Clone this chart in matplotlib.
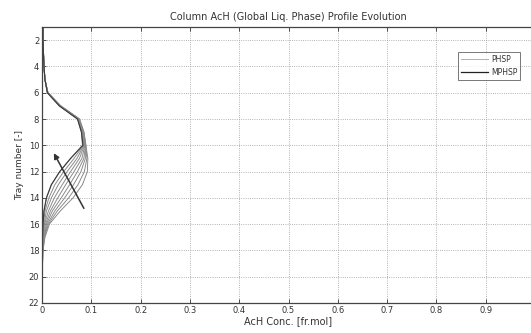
import matplotlib
matplotlib.use("Agg")
import matplotlib.pyplot as plt

# tray numbers (top of column = 1)
trays = list(range(1, 23))

# PHSP profiles, one row per tray, one column per time snapshot (first -> last)
phsp_conc = [
    [0.002, 0.002, 0.002, 0.002, 0.002, 0.002, 0.002, 0.002, 0.002],
    [0.002, 0.002, 0.002, 0.002, 0.002, 0.002, 0.002, 0.002, 0.002],
    [0.003, 0.003, 0.003, 0.003, 0.003, 0.003, 0.003, 0.003, 0.003],
    [0.004, 0.004, 0.004, 0.004, 0.004, 0.004, 0.004, 0.004, 0.004],
    [0.006, 0.006, 0.006, 0.006, 0.006, 0.006, 0.006, 0.006, 0.006],
    [0.012, 0.012, 0.012, 0.012, 0.011, 0.011, 0.011, 0.011, 0.011],
    [0.038, 0.038, 0.037, 0.037, 0.037, 0.036, 0.036, 0.036, 0.035],
    [0.076, 0.076, 0.075, 0.075, 0.074, 0.074, 0.073, 0.073, 0.072],
    [0.085, 0.085, 0.084, 0.084, 0.083, 0.083, 0.082, 0.081, 0.080],
    [0.089, 0.089, 0.088, 0.088, 0.087, 0.086, 0.085, 0.084, 0.082],
    [0.093, 0.091, 0.088, 0.085, 0.081, 0.076, 0.071, 0.065, 0.058],
    [0.092, 0.086, 0.079, 0.072, 0.065, 0.058, 0.051, 0.044, 0.036],
    [0.082, 0.073, 0.064, 0.056, 0.048, 0.041, 0.033, 0.026, 0.019],
    [0.063, 0.054, 0.046, 0.039, 0.032, 0.025, 0.019, 0.014, 0.009],
    [0.037, 0.031, 0.026, 0.021, 0.017, 0.013, 0.009, 0.006, 0.004],
    [0.015, 0.013, 0.011, 0.009, 0.007, 0.005, 0.004, 0.003, 0.002],
    [0.006, 0.005, 0.004, 0.004, 0.003, 0.002, 0.002, 0.001, 0.001],
    [0.002, 0.002, 0.002, 0.001, 0.001, 0.001, 0.001, 0.001, 0.001],
    [0.001, 0.001, 0.001, 0.001, 0.000, 0.000, 0.000, 0.000, 0.000],
    [0.000, 0.000, 0.000, 0.000, 0.000, 0.000, 0.000, 0.000, 0.000],
    [0.000, 0.000, 0.000, 0.000, 0.000, 0.000, 0.000, 0.000, 0.000],
    [0.000, 0.000, 0.000, 0.000, 0.000, 0.000, 0.000, 0.000, 0.000],
]

# MPHSP profile
mphsp_conc = [0.002, 0.002, 0.003, 0.004, 0.006, 0.011, 0.035, 0.072, 0.080,
              0.083, 0.058, 0.036, 0.019, 0.009, 0.004, 0.002, 0.001, 0.001,
              0.000, 0.000, 0.000, 0.000]

# evolution arrow (tail -> head), in data units
arrow_tail = (0.085, 14.8)
arrow_head = (0.024, 10.6)

x_ticks = [0, 0.1, 0.2, 0.3, 0.4, 0.5, 0.6, 0.7, 0.8, 0.9]
x_ticklabels = ["0", "0.1", "0.2", "0.3", "0.4", "0.5", "0.6", "0.7", "0.8", "0.9"]
y_ticks = [2, 4, 6, 8, 10, 12, 14, 16, 18, 20, 22]

txt = "#333333"

fig = plt.figure(figsize=(5.31, 3.33), dpi=100)
# right edge of the axes falls just outside the scanned picture
ax = fig.add_axes([42 / 531, 30 / 333, 493 / 531, 276 / 333])

ax.plot(phsp_conc, trays, color="#8a8a8a", lw=0.7)
ax.plot(mphsp_conc, trays, color="#3a3a3a", lw=0.8)

# legend proxies
ax.plot([], [], color="#b0b0b0", lw=0.7, label="PHSP")
ax.plot([], [], color="#222222", lw=0.9, label="MPHSP")

ax.annotate("", xy=arrow_head, xytext=arrow_tail,
            arrowprops=dict(arrowstyle="-|>", color="#333333", lw=1.1,
                            mutation_scale=8, shrinkA=0, shrinkB=0))

ax.set_xlim(0, 1)
ax.set_ylim(22, 1)
ax.set_xticks(x_ticks)
ax.set_xticklabels(x_ticklabels)
ax.set_yticks(y_ticks)
ax.tick_params(direction="in", length=3, width=0.6, labelsize=6, colors=txt,
               top=True, right=True, pad=2)
ax.grid(True, linestyle=":", color="#9a9a9a", lw=0.6)
for s in ax.spines.values():
    s.set_color("#444444")
    s.set_linewidth(0.9)

ax.set_title("Column AcH (Global Liq. Phase) Profile Evolution", fontsize=7,
             color=txt, pad=5)
ax.set_xlabel("AcH Conc. [fr.mol]", fontsize=7, color=txt, labelpad=1)
ax.set_ylabel("Tray number [-]", fontsize=6.5, color=txt, labelpad=3)

leg = ax.legend(loc="upper right", bbox_to_anchor=(0.97, 0.91), fontsize=5.5,
                frameon=True, fancybox=False, borderaxespad=0, handlelength=3.6,
                borderpad=0.4, labelspacing=0.5, handletextpad=0.3)
leg.get_frame().set_edgecolor("#555555")
leg.get_frame().set_linewidth(0.7)
for t in leg.get_texts():
    t.set_color(txt)

fig.savefig("out.png", dpi=100)
